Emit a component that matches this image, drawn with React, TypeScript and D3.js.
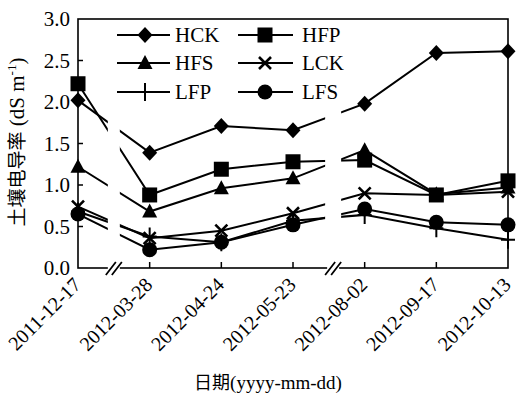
import React from "react";
import * as d3 from "d3";

const dates = ["2011-12-17", "2012-03-28", "2012-04-24", "2012-05-23", "2012-08-02", "2012-09-17", "2012-10-13"];
const seriesNames = ["HCK", "HFP", "HFS", "LCK", "LFP", "LFS"];
const HCK = [2.02, 1.39, 1.71, 1.66, 1.98, 2.59, 2.61];
const HFP = [2.22, 0.88, 1.19, 1.28, 1.3, 0.88, 1.05];
const HFS = [1.22, 0.68, 0.96, 1.08, 1.42, 0.89, 0.97];
const LCK = [0.74, 0.36, 0.45, 0.66, 0.9, 0.88, 0.92];
const LFP = [0.68, 0.38, 0.31, 0.57, 0.64, 0.48, 0.34];
const LFS = [0.65, 0.22, 0.31, 0.52, 0.71, 0.55, 0.52];
const yTicks = [0, 0.5, 1.0, 1.5, 2.0, 2.5, 3.0];
const seriesValues = [HCK, HFP, HFS, LCK, LFP, LFS];

const W = 530, H = 396;
const L = 78, R = 508, T = 19, B = 268;

function Marker({ name, x, y }: { name: string; x: number; y: number }) {
  switch (name) {
    case "HCK":
      return <path d={`M${x},${y - 8}L${x + 7.5},${y}L${x},${y + 8}L${x - 7.5},${y}Z`} fill="#000" />;
    case "HFP":
      return <rect x={x - 7.5} y={y - 7.5} width={15} height={15} fill="#000" />;
    case "HFS":
      return <path d={`M${x},${y - 8}L${x + 7.5},${y + 6}L${x - 7.5},${y + 6}Z`} fill="#000" />;
    case "LCK":
      return (
        <path d={`M${x - 6},${y - 6}L${x + 6},${y + 6}M${x + 6},${y - 6}L${x - 6},${y + 6}`} stroke="#000" strokeWidth={2.6} />
      );
    case "LFP":
      return (
        <path d={`M${x - 7},${y}L${x + 7},${y}M${x},${y - 9}L${x},${y + 9}`} stroke="#000" strokeWidth={2} />
      );
    default:
      return <circle cx={x} cy={y} r={7.5} fill="#000" />;
  }
}

export default function App() {
  const x = d3.scalePoint<string>().domain(dates).range([L, R]).padding(0);
  const y = d3.scaleLinear().domain([0, 3]).range([B, T]);
  const line = d3.line<number>().x((_, i) => x(dates[i]) as number).y((d) => y(d));

  const x0 = x(dates[0]) as number, x1 = x(dates[1]) as number;
  const x3 = x(dates[3]) as number, x4 = x(dates[4]) as number;
  const g1 = x0 + (x1 - x0) * 0.5;
  const g2 = x3 + (x4 - x3) * 0.56;
  const gaps = [
    [g1 - 6, g1 + 6],
    [g2 - 8, g2 + 8],
  ];

  const legendRows = [35, 63, 92];
  const legendCols = [
    { x1: 117, x2: 170, m: 145, t: 175 },
    { x1: 238, x2: 293, m: 265, t: 302 },
  ];

  return (
    <svg width={W} height={H} fontFamily="Liberation Serif" style={{ position: "absolute", left: 0, top: 0, background: "#fff" }}>
      <rect x={0} y={0} width={W} height={H} fill="#fff" />
      {/* lines */}
      {seriesValues.map((vals, si) => (
        <path key={seriesNames[si]} d={line(vals) as string} fill="none" stroke="#000" strokeWidth={2} />
      ))}
      {/* gaps in the lines */}
      {gaps.map((g, i) => (
        <rect key={"gap" + i} x={g[0]} y={T + 2} width={g[1] - g[0]} height={B - T - 4} fill="#fff" />
      ))}
      {/* frame */}
      <rect x={L} y={T} width={R - L} height={B - T} fill="none" stroke="#000" strokeWidth={1.6} />
      {yTicks.map((t) => (
        <g key={"y" + t}>
          {t > 0 && t < 3 && <line x1={L} x2={L + 5} y1={y(t)} y2={y(t)} stroke="#000" strokeWidth={1.5} />}
          <text x={70} y={y(t)} dy="0.35em" textAnchor="end" fontFamily="Liberation Serif" fontSize={21}>
            {t.toFixed(1)}
          </text>
        </g>
      ))}
      {dates.map((d, i) => (
        <g key={d}>
          {i > 0 && i < dates.length - 1 && (
            <line x1={x(d)} x2={x(d)} y1={B} y2={B - 6} stroke="#000" strokeWidth={1.5} />
          )}
          <text
            transform={`translate(${(x(d) as number) + 4},${B + 18}) rotate(-45)`}
            textAnchor="end"
            fontFamily="Liberation Serif"
            fontSize={20}
          >
            {d}
          </text>
        </g>
      ))}
      {/* axis break marks */}
      {[g1, g2].map((cx, i) => (
        <g key={"brk" + i}>
          <rect x={cx - 6} y={B - 3} width={12} height={6} fill="#fff" />
          <path d={`M${cx - 8},${B + 7}L${cx + 2},${B - 6}M${cx - 2},${B + 7}L${cx + 8},${B - 6}`} stroke="#000" strokeWidth={1.8} />
        </g>
      ))}
      {seriesValues.map((vals, si) =>
        vals.map((v, i) => <Marker key={seriesNames[si] + i} name={seriesNames[si]} x={x(dates[i]) as number} y={y(v)} />)
      )}
      {seriesNames.map((n, i) => {
        const row = legendRows[Math.floor(i / 2)];
        const col = legendCols[i % 2];
        return (
          <g key={"lg" + n}>
            <line x1={col.x1} x2={col.x2} y1={row} y2={row} stroke="#000" strokeWidth={2} />
            <Marker name={n} x={col.m} y={row} />
            <text x={col.t} y={row} dy="0.35em" fontFamily="Liberation Serif" fontSize={21}>
              {n}
            </text>
          </g>
        );
      })}
      <text transform={`translate(24,142) rotate(-90)`} textAnchor="middle" fontSize={21} fontFamily="Liberation Serif">
        <tspan fontFamily="Noto Sans CJK SC" fontSize={19}>土壤电导率</tspan>
        <tspan> (dS m</tspan>
        <tspan fontSize={13} dy={-8}>-1</tspan>
        <tspan dy={8}>)</tspan>
      </text>
      <text x={268} y={389} textAnchor="middle" fontFamily="Liberation Serif" fontSize={19}>
        <tspan fontFamily="Noto Sans CJK SC" fontSize={18}>日期</tspan>
        <tspan>(yyyy-mm-dd)</tspan>
      </text>
    </svg>
  );
}
